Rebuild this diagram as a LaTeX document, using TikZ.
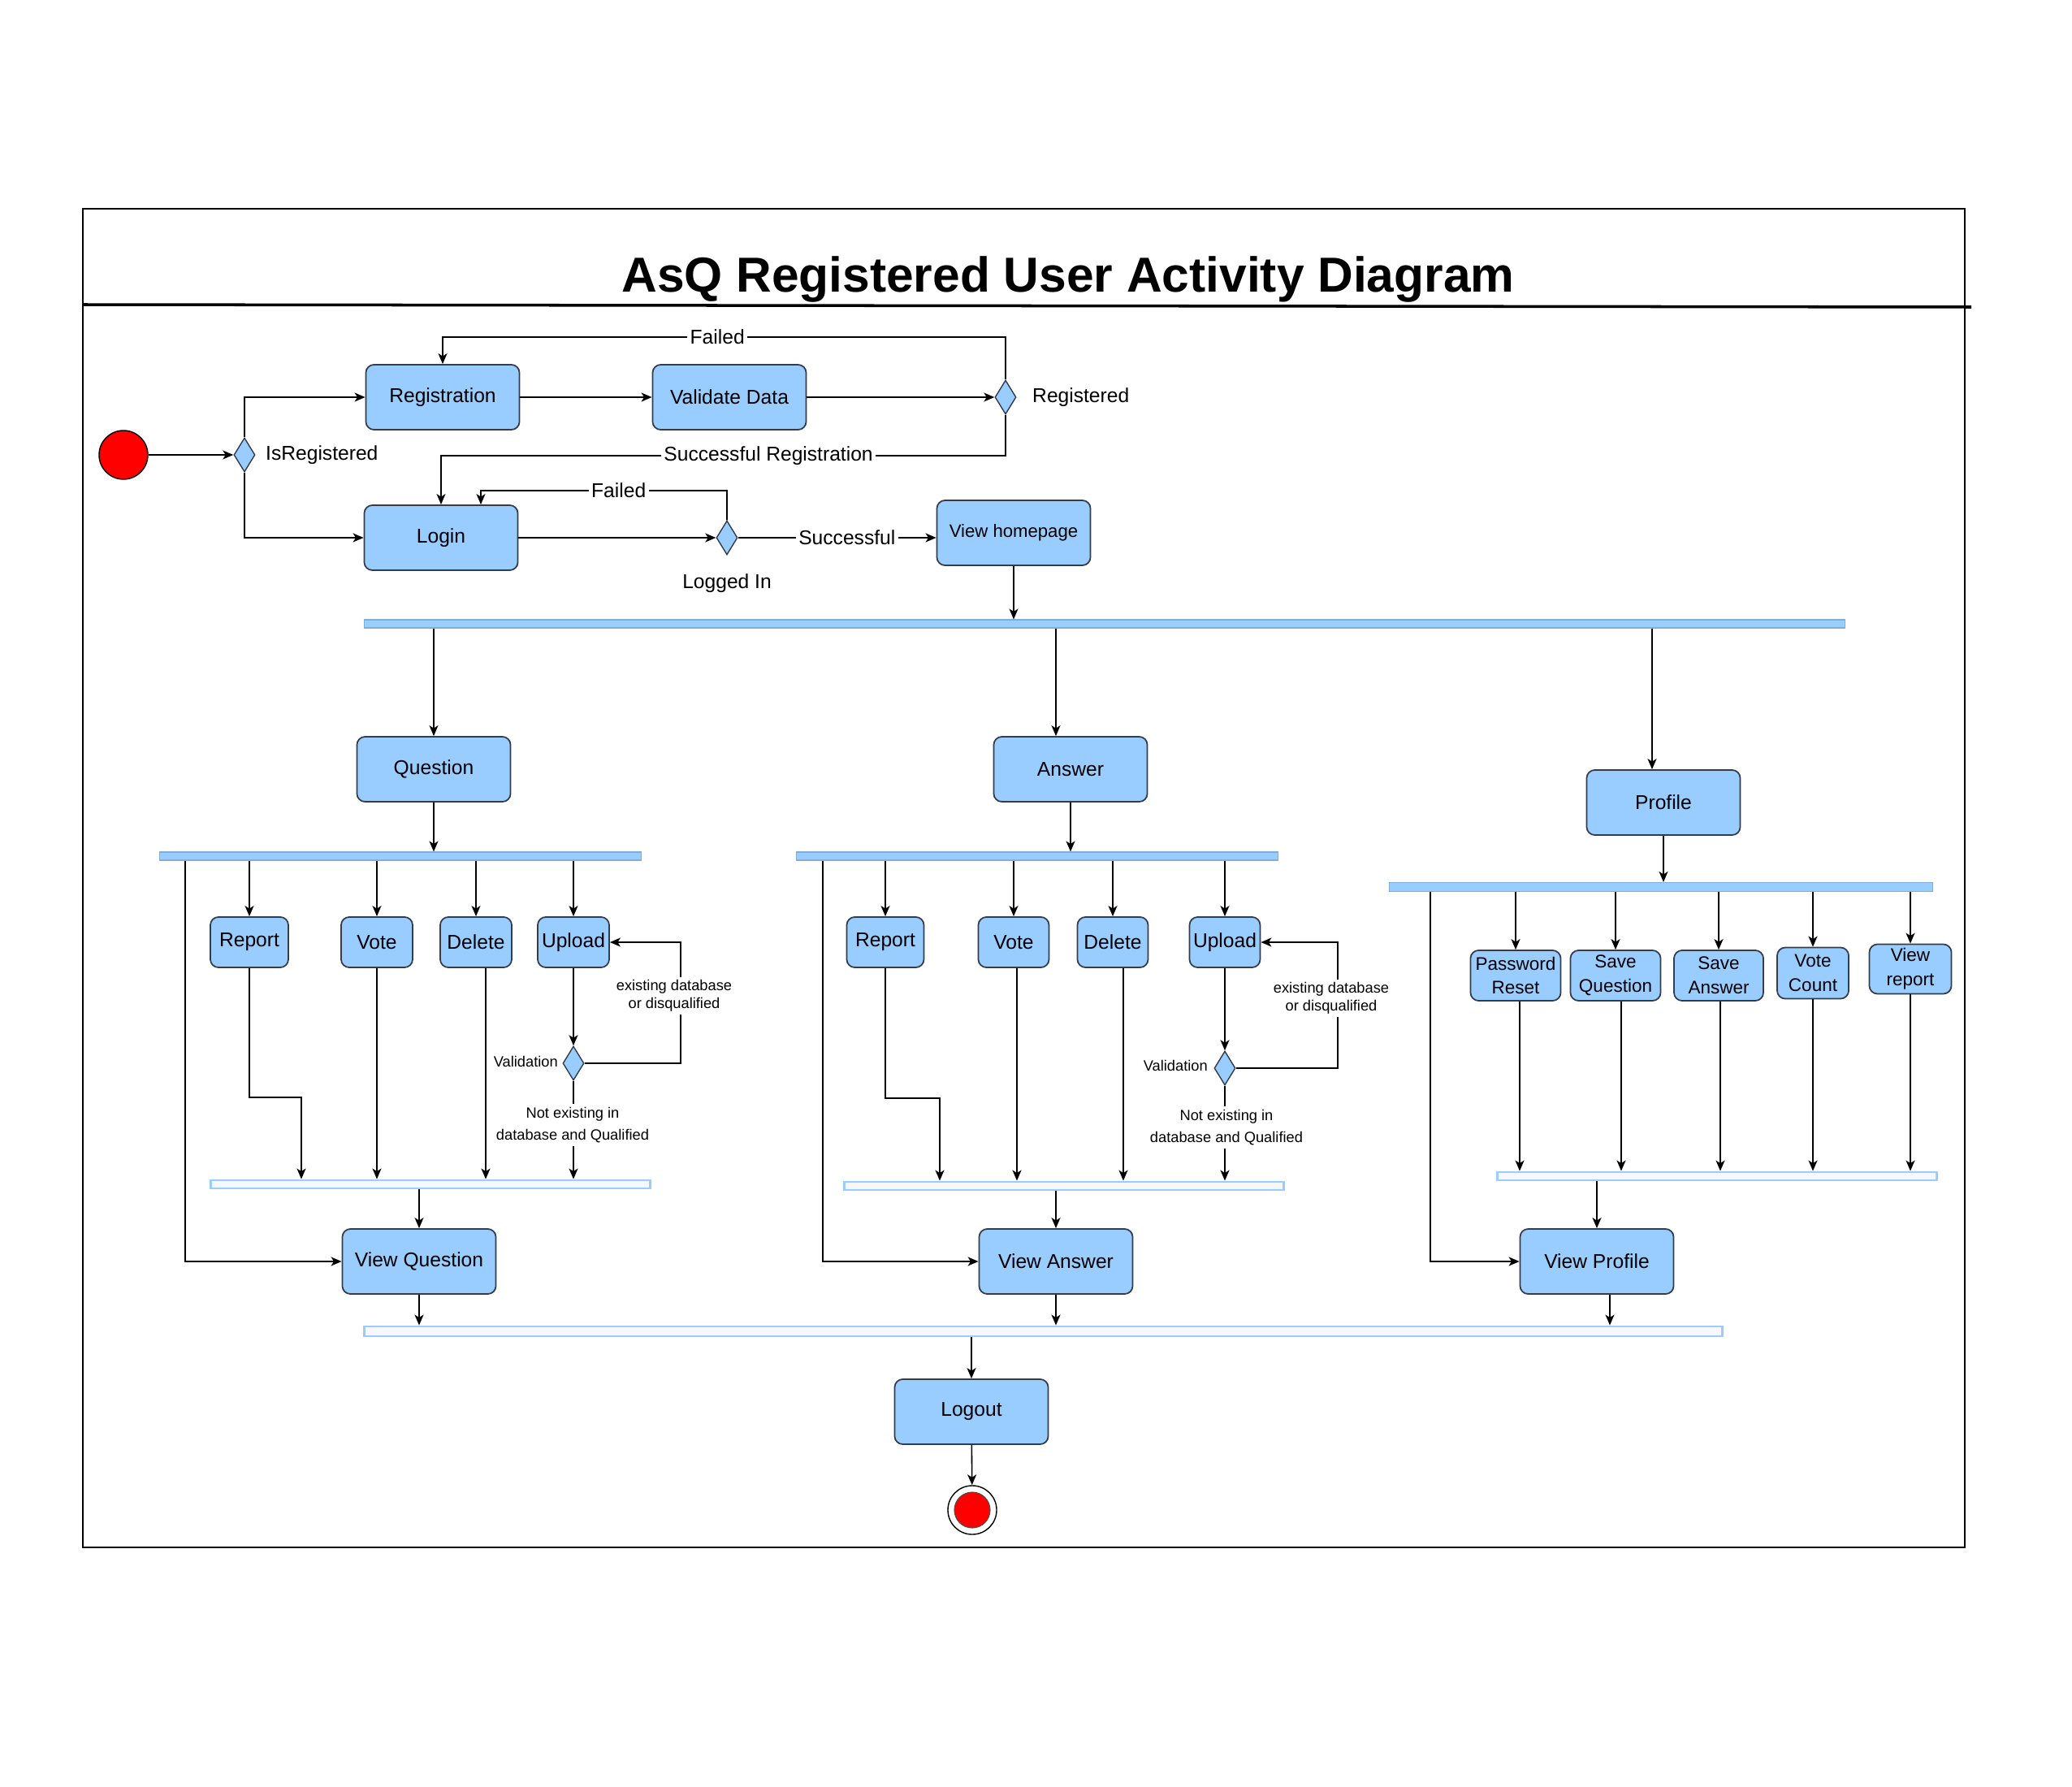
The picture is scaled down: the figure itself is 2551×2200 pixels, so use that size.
\documentclass[tikz,border=0pt]{standalone}
\usepackage{fontspec}
\setmainfont{Liberation Sans}
\usetikzlibrary{shapes.geometric,arrows.meta,calc}
\definecolor{boxblue}{RGB}{153,204,255}
\definecolor{boxedge}{RGB}{50,60,75}
\definecolor{joinfill}{RGB}{245,247,250}
\begin{document}
\begin{tikzpicture}[x=0.01cm,y=-0.01cm,
 box/.style={draw=boxedge, fill=boxblue, rounded corners=1mm, line width=0.5pt, minimum width=18.9mm, minimum height=8mm, inner sep=0pt, font=\fontsize{7}{8.4}\selectfont, align=center},
 sbox/.style={box, minimum height=6.2mm},
 pbox/.style={box, minimum height=6.2mm, font=\fontsize{6.4}{8.5}\selectfont},
 dec/.style={diamond, draw=boxedge, fill=boxblue, line width=0.4pt, minimum width=2.6mm, minimum height=4.2mm, inner sep=0pt},
 forkbar/.style={draw=boxblue!85!black, fill=boxblue, line width=0.3pt, inner sep=0pt, minimum height=1mm},
 joinbar/.style={draw=boxblue, fill=joinfill, line width=0.8pt, inner sep=0pt, minimum height=1mm},
 arr/.style={-{Stealth[length=1.3mm,width=1.1mm,inset=0.35mm]}, line width=0.45pt, black},
 lbl/.style={font=\fontsize{7}{8.4}\selectfont, inner sep=1pt},
 slbl/.style={font=\fontsize{5.2}{6.3}\selectfont, align=center, inner sep=1pt},
]
\useasboundingbox (0,0) rectangle (2551,2200);
\draw[line width=0.6pt] (102,257) rectangle (2419,1905);
\draw[line width=1pt] (102,375) -- (2427,378);
\node[font=\fontsize{17.2}{20}\selectfont\bfseries, anchor=base] (title) at (1315,360) {AsQ Registered User Activity Diagram};

% ---- top part
\node[circle, draw=black, fill=red, minimum size=6mm, inner sep=0pt, line width=0.4pt] (start) at (152,560) {};
\node[dec] (isreg) at (301,560) {};
\node[lbl, anchor=west] (isregl) at (323,560) {IsRegistered};
\node[box] (reg) at (545,489) {Registration};
\node[box] (val) at (898,489) {Validate Data};
\node[dec] (regd) at (1238,489) {};
\node[lbl, anchor=west] (regdl) at (1267,489) {Registered};
\node[box] (login) at (543,662) {Login};
\node[dec] (lid) at (895,662) {};
\node[lbl] (lidl) at (895,718) {Logged In};
\node[box, font=\fontsize{6.3}{7.5}\selectfont] (home) at (1248,656) {View homepage};

\draw[arr] (start) -- (isreg);
\draw[arr] (isreg.north) |- (reg.west);
\draw[arr] (isreg.south) |- (login.west);
\draw[arr] (reg) -- (val);
\draw[arr] (val) -- (regd);
\draw[arr] (regd.north) -- (regd.north |- 0,415) -| node[lbl, fill=white, pos=0.256] {Failed} (reg.north);
\draw[arr] (regd.south) -- (regd.south |- 0,561) -| node[lbl, fill=white, pos=0.21] {Successful Registration} (login.north);
\draw[arr] (login) -- (lid);
\draw[arr] (lid.north) |- node[lbl, fill=white, pos=0.72] {Failed} (592,604) -- ([xshift=4.9mm]login.north);
\draw[arr] (lid.east) -- node[lbl, fill=white, pos=0.55] {Successful} (lid.east -| home.west);

% ---- main fork
\node[forkbar, minimum width=182.2mm] (fork1) at (1360,768) {};
\draw[arr] (home.south) -- (home.south |- fork1.north);
\node[box] (q) at (534,947) {Question};
\node[box] (a) at (1318,947) {Answer};
\node[box] (p) at (2048,988) {Profile};
\draw[arr] (fork1.south -| q.north) -- (q.north);
\draw[arr] ([xshift=-1.8mm]a.north |- fork1.south) -- ([xshift=-1.8mm]a.north);
\draw[arr] ([xshift=-1.4mm]p.north |- fork1.south) -- ([xshift=-1.4mm]p.north);

\node[forkbar, minimum width=59.2mm] (qf) at (493,1054) {};
\node[forkbar, minimum width=59.2mm] (af) at (1277,1054) {};
\node[forkbar, minimum width=66.8mm, minimum height=1.1mm] (pf) at (2045,1092) {};
\draw[arr] (q) -- (q |- qf.north);
\draw[arr] (a) -- (a |- af.north);
\draw[arr] (p) -- (p |- pf.north);

% ---- question column
\node[sbox, minimum width=9.6mm] (qrep) at (307,1160) {Report};
\node[sbox, minimum width=8.8mm] (qvote) at (464,1160) {Vote};
\node[sbox, minimum width=8.8mm] (qdel) at (586,1160) {Delete};
\node[sbox, minimum width=8.8mm] (qup) at (706,1160) {Upload};
\foreach \n in {qrep,qvote,qdel,qup} \draw[arr] (qf.south -| \n.north) -- (\n.north);
\node[dec] (qv) at (706,1309) {};
\node[slbl, anchor=east] (qvl) at (691,1307) {Validation};
\draw[arr] (qup) -- (qv);
\draw[arr] (qv.east) -| (838,1160) -- (qup.east);
\node[slbl, fill=white] (qvl2) at (830,1226) {existing database\\or disqualified};
\node[joinbar, minimum width=54.1mm] (qj) at (530,1458) {};
\draw[arr] (qv.south) -- (qv.south |- qj.north);
\node[slbl, fill=white] (qvl3) at (705,1385) {Not existing in\\[1.6pt]database and Qualified};
\draw[arr] (qrep.south) |- (371,1351) -- (qj.north -| 371,0);
\draw[arr] (qvote) -- (qvote |- qj.north);
\draw[arr] ([xshift=1.2mm]qdel.south) -- ([xshift=1.2mm]qdel.south |- qj.north);
\node[box] (vq) at (516,1553) {View Question};
\draw[arr] (qf.south -| 228,0) |- (vq.west);
\draw[arr] (qj.south -| vq.north) -- (vq.north);

% ---- answer column
\node[sbox, minimum width=9.5mm] (arep) at (1090,1160) {Report};
\node[sbox, minimum width=8.7mm] (avote) at (1248,1160) {Vote};
\node[sbox, minimum width=8.7mm] (adel) at (1370,1160) {Delete};
\node[sbox, minimum width=8.7mm] (aup) at (1508,1160) {Upload};
\foreach \n in {arep,avote,adel,aup} \draw[arr] (af.south -| \n.north) -- (\n.north);
\node[dec] (av) at (1508,1315) {};
\node[slbl, anchor=east] (avl) at (1491,1312) {Validation};
\draw[arr] (aup) -- (av);
\draw[arr] (av.east) -| (1647,1160) -- (aup.east);
\node[slbl, fill=white] (avl2) at (1639,1229) {existing database\\or disqualified};
\node[joinbar, minimum width=54mm] (aj) at (1310,1460) {};
\draw[arr] (av.south) -- (av.south |- aj.north);
\node[slbl, fill=white] (avl3) at (1510,1388) {Not existing in\\[1.6pt]database and Qualified};
\draw[arr] (arep.south) |- (1157,1352) -- (aj.north -| 1157,0);
\draw[arr] ([xshift=0.4mm]avote.south) -- ([xshift=0.4mm]avote.south |- aj.north);
\draw[arr] ([xshift=1.3mm]adel.south) -- ([xshift=1.3mm]adel.south |- aj.north);
\node[box] (va) at (1300,1553) {View Answer};
\draw[arr] (af.south -| 1013,0) |- (va.west);
\draw[arr] (aj.south -| va.north) -- (va.north);

% ---- profile column
\node[pbox, minimum width=11.1mm] (pw) at (1866,1201) {Password\\Reset};
\node[pbox, minimum width=11.1mm] (sq) at (1989,1201) {Save\\Question};
\node[pbox, minimum width=11mm] (sa) at (2116,1201) {Save\\Answer};
\node[pbox, minimum width=8.8mm, minimum height=6.3mm] (vc) at (2232,1198) {Vote\\Count};
\node[pbox, minimum width=10.1mm, minimum height=6.1mm] (vr) at (2352,1193) {View\\report};
\foreach \n in {pw,sq,sa,vc,vr} \draw[arr] (pf.south -| \n.north) -- (\n.north);
\node[joinbar, minimum width=54mm] (pj) at (2114,1448) {};
\draw[arr] ([xshift=0.5mm]pw.south) -- ([xshift=0.5mm]pw.south |- pj.north);
\draw[arr] ([xshift=0.7mm]sq.south) -- ([xshift=0.7mm]sq.south |- pj.north);
\draw[arr] ([xshift=0.2mm]sa.south) -- ([xshift=0.2mm]sa.south |- pj.north);
\draw[arr] (vc.south) -- (vc.south |- pj.north);
\draw[arr] (vr.south) -- (vr.south |- pj.north);
\node[box] (vp) at (1966,1553) {View Profile};
\draw[arr] (pf.south -| 1761,0) |- (vp.west);
\draw[arr] (pj.south -| vp.north) -- (vp.north);

% ---- bottom
\node[joinbar, minimum width=167.1mm, minimum height=1.2mm] (bj) at (1284.5,1639) {};
\draw[arr] (vq) -- (vq |- bj.north);
\draw[arr] (va) -- (va |- bj.north);
\draw[arr] ([xshift=1.6mm]vp.south) -- ([xshift=1.6mm]vp.south |- bj.north);
\node[box] (logout) at (1196,1738) {Logout};
\draw[arr] (bj.south -| logout.north) -- (logout.north);
\node[circle, draw=black, fill=white, minimum size=6mm, inner sep=0pt, line width=0.4pt] (endo) at (1197,1859) {};
\node[circle, draw=black!70, fill=red, minimum size=4.4mm, inner sep=0pt, line width=0.3pt] (endi) at (1197,1859) {};
\draw[arr] (logout) -- (endo);
\end{tikzpicture}
\end{document}
